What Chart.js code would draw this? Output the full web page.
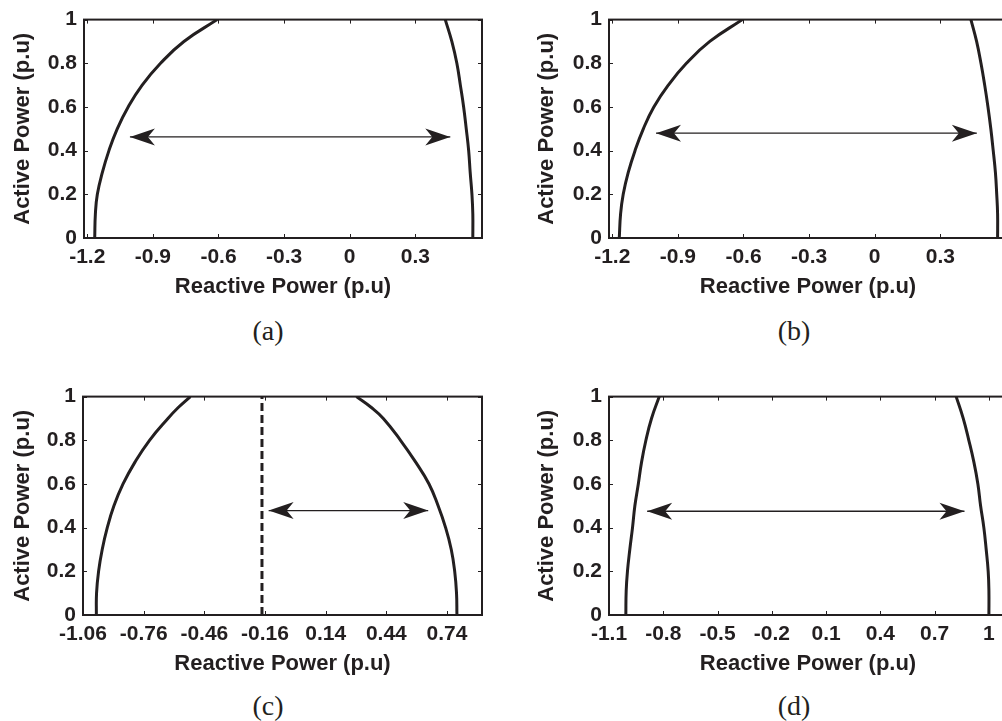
<!DOCTYPE html>
<html>
<head>
<meta charset="utf-8">
<script src="https://cdn.jsdelivr.net/npm/chart.js@4.4.1/dist/chart.umd.min.js"></script>
<style>
  html, body { margin: 0; padding: 0; background: #fff; width: 1002px; height: 721px; overflow: hidden; }
  canvas { position: absolute; }
  .cap { position: absolute; font: 28px "Liberation Serif", "Times New Roman", serif; line-height: 28px; color: #231f20; transform: translateX(-50%); white-space: nowrap; }
</style>
</head>
<body>
<canvas id="ca" width="500" height="300" style="left:0;top:0"></canvas>
<canvas id="cb" width="496" height="300" style="left:524px;top:0"></canvas>
<canvas id="cc" width="500" height="300" style="left:0;top:377px"></canvas>
<canvas id="cd" width="496" height="300" style="left:524px;top:377px"></canvas>
<div class="cap" style="left:268px;top:317px">(a)</div>
<div class="cap" style="left:794px;top:317px">(b)</div>
<div class="cap" style="left:268px;top:692px">(c)</div>
<div class="cap" style="left:794px;top:692px">(d)</div>
<script>
"use strict";

// ── 데이터 ───────────────────────────────────────────────
const P_LEVELS = [0, 0.11, 0.2, 0.3, 0.4, 0.5, 0.6, 0.7, 0.8, 0.9, 1];
const P_LEVELS_C = [0, 0.1, 0.2, 0.3, 0.4, 0.5, 0.6, 0.7, 0.8, 0.9, 0.95, 1];
const Y_TICKS = [0, 0.2, 0.4, 0.6, 0.8, 1];

// (a)
const A_LEFT_Q = [-1.166, -1.163, -1.154, -1.131, -1.101, -1.063, -1.013, -0.949, -0.865, -0.758, -0.606];
const A_RIGHT_Q = [0.563, 0.563, 0.559, 0.551, 0.544, 0.533, 0.521, 0.506, 0.490, 0.467, 0.437];
const A_ARROW_Q = [-1.005, 0.460];
const A_ARROW_P = [0.463, 0.463];
const AB_X_TICKS = [-1.2, -0.9, -0.6, -0.3, 0, 0.3];

// (b)
const B_LEFT_Q = [-1.168, -1.162, -1.150, -1.127, -1.096, -1.058, -1.010, -0.944, -0.861, -0.754, -0.605];
const B_RIGHT_Q = [0.562, 0.562, 0.558, 0.552, 0.542, 0.531, 0.518, 0.503, 0.486, 0.466, 0.440];
const B_ARROW_Q = [-1.000, 0.467];
const B_ARROW_P = [0.480, 0.480];

// (c)
const C_LEFT_Q = [-0.994, -0.993, -0.983, -0.965, -0.940, -0.907, -0.862, -0.803, -0.731, -0.640, -0.589, -0.529];
const C_RIGHT_Q = [0.789, 0.787, 0.778, 0.761, 0.733, 0.696, 0.651, 0.585, 0.510, 0.425, 0.366, 0.292];
const C_DASH_Q = [-0.175, -0.175];
const C_DASH_P = [0, 1];
const C_ARROW_Q = [-0.142, 0.647];
const C_ARROW_P = [0.478, 0.478];
const C_X_TICKS = [-1.06, -0.76, -0.46, -0.16, 0.14, 0.44, 0.74];

// (d)
const D_LEFT_Q = [-1.007, -1.005, -0.998, -0.985, -0.970, -0.957, -0.938, -0.920, -0.896, -0.865, -0.822];
const D_RIGHT_Q = [1.000, 1.000, 0.996, 0.985, 0.972, 0.954, 0.939, 0.917, 0.889, 0.858, 0.819];
const D_ARROW_Q = [-0.889, 0.865];
const D_ARROW_P = [0.475, 0.475];
const D_X_TICKS = [-1.1, -0.8, -0.5, -0.2, 0.1, 0.4, 0.7, 1];

const INK = "#231f20";
const FONT = "'Liberation Sans', Arial, Helvetica, sans-serif";
Chart.defaults.font.family = FONT;
Chart.defaults.color = INK;

const pts = (qs, ps) => qs.map((q, i) => ({ x: q, y: ps[i] }));

// ── 플러그인: 안쪽 눈금 + 상자 테두리, 화살촉 ─────────────────────
const frame = {
  id: "frame",
  afterDraw(chart) {
    const { ctx, chartArea: a, scales: { x, y } } = chart;
    ctx.save();
    ctx.strokeStyle = INK;
    ctx.lineWidth = 1;
    ctx.beginPath();
    for (const t of x.ticks) {
      const px = Math.round(x.getPixelForValue(t.value)) + 0.5;
      ctx.moveTo(px, a.bottom); ctx.lineTo(px, a.bottom - 4);
      ctx.moveTo(px, a.top); ctx.lineTo(px, a.top + 4);
    }
    for (const t of y.ticks) {
      const py = Math.round(y.getPixelForValue(t.value)) + 0.5;
      ctx.moveTo(a.left, py); ctx.lineTo(a.left + 4, py);
      ctx.moveTo(a.right, py); ctx.lineTo(a.right - 4, py);
    }
    ctx.stroke();
    ctx.lineWidth = 2;
    ctx.strokeRect(a.left, a.top, a.right - a.left, a.bottom - a.top);
    ctx.restore();
  },
};

// 양방향 화살표 머리 (화살표 데이터셋 양 끝점)
const arrowHeads = {
  id: "arrowHeads",
  afterDatasetsDraw(chart) {
    const { ctx } = chart;
    chart.data.datasets.forEach((ds, i) => {
      if (!ds.arrow) return;
      const els = chart.getDatasetMeta(i).data;
      const p0 = els[0], p1 = els[els.length - 1];
      ctx.save();
      ctx.fillStyle = INK;
      for (const [tip, dir] of [[p0, 1], [p1, -1]]) {
        ctx.beginPath();
        ctx.moveTo(tip.x, tip.y);
        ctx.lineTo(tip.x + dir * 25, tip.y - 8.5);
        ctx.lineTo(tip.x + dir * 18, tip.y);
        ctx.lineTo(tip.x + dir * 25, tip.y + 8.5);
        ctx.closePath();
        ctx.fill();
      }
      ctx.restore();
    });
  },
};

function curve(data) {
  return { data, borderColor: INK, borderWidth: 3, pointRadius: 0, tension: 0.45, fill: false };
}

function arrow(data) {
  return { data, borderColor: INK, borderWidth: 1.3, pointRadius: 0, tension: 0, arrow: true };
}

function panel(id, o) {
  return new Chart(document.getElementById(id), {
    type: "line",
    data: { datasets: o.datasets },
    options: {
      responsive: false,
      animation: false,
      events: [],
      layout: { padding: { left: 0, right: o.padRight, top: o.padTop, bottom: 0 } },
      plugins: { legend: { display: false }, tooltip: { enabled: false } },
      scales: {
        x: {
          type: "linear",
          min: o.xMin,
          max: o.xMax,
          afterBuildTicks: (s) => { s.ticks = o.xTicks.map((v) => ({ value: v })); },
          afterFit: (s) => { s.height = 62; },
          grid: { display: false, drawTicks: false },
          border: { display: false },
          ticks: {
            autoSkip: false, maxRotation: 0, minRotation: 0, padding: 7, color: INK,
            font: { size: 21, weight: "bold" },
            callback: (v) => String(v),
          },
          title: {
            display: true, text: "Reactive Power (p.u)", color: INK,
            font: { size: 22, weight: "bold" }, padding: { top: 0, bottom: 0 },
          },
        },
        y: {
          type: "linear",
          min: 0,
          max: 1,
          afterBuildTicks: (s) => { s.ticks = Y_TICKS.map((v) => ({ value: v })); },
          afterFit: (s) => { s.width = o.yWidth; },
          grid: { display: false, drawTicks: false },
          border: { display: false },
          ticks: {
            padding: 7, color: INK,
            font: { size: 21, weight: "bold" },
            callback: (v) => String(v),
          },
          title: {
            display: true, text: "Active Power (p.u)", color: INK,
            font: { size: 22, weight: "bold" }, padding: { top: 10, bottom: 0 },
          },
        },
      },
    },
    plugins: [arrowHeads, frame],
  });
}

panel("ca", {
  xMin: -1.215, xMax: 0.605, xTicks: AB_X_TICKS, yWidth: 84, padRight: 18, padTop: 14,
  datasets: [
    curve(pts(A_LEFT_Q, P_LEVELS)),
    curve(pts(A_RIGHT_Q, P_LEVELS)),
    arrow(pts(A_ARROW_Q, A_ARROW_P)),
  ],
});

panel("cb", {
  xMin: -1.215, xMax: 0.605, xTicks: AB_X_TICKS, yWidth: 85, padRight: 13, padTop: 14,
  datasets: [
    curve(pts(B_LEFT_Q, P_LEVELS)),
    curve(pts(B_RIGHT_Q, P_LEVELS)),
    arrow(pts(B_ARROW_Q, B_ARROW_P)),
  ],
});

panel("cc", {
  xMin: -1.06, xMax: 0.913, xTicks: C_X_TICKS, yWidth: 83, padRight: 18, padTop: 15,
  datasets: [
    curve(pts(C_LEFT_Q, P_LEVELS_C)),
    curve(pts(C_RIGHT_Q, P_LEVELS_C)),
    { data: pts(C_DASH_Q, C_DASH_P), borderColor: INK, borderWidth: 3, borderDash: [8, 4], pointRadius: 0 },
    arrow(pts(C_ARROW_Q, C_ARROW_P)),
  ],
});

panel("cd", {
  xMin: -1.1, xMax: 1.1, xTicks: D_X_TICKS, yWidth: 85, padRight: 13, padTop: 15,
  datasets: [
    curve(pts(D_LEFT_Q, P_LEVELS)),
    curve(pts(D_RIGHT_Q, P_LEVELS)),
    arrow(pts(D_ARROW_Q, D_ARROW_P)),
  ],
});
</script>
</body>
</html>
